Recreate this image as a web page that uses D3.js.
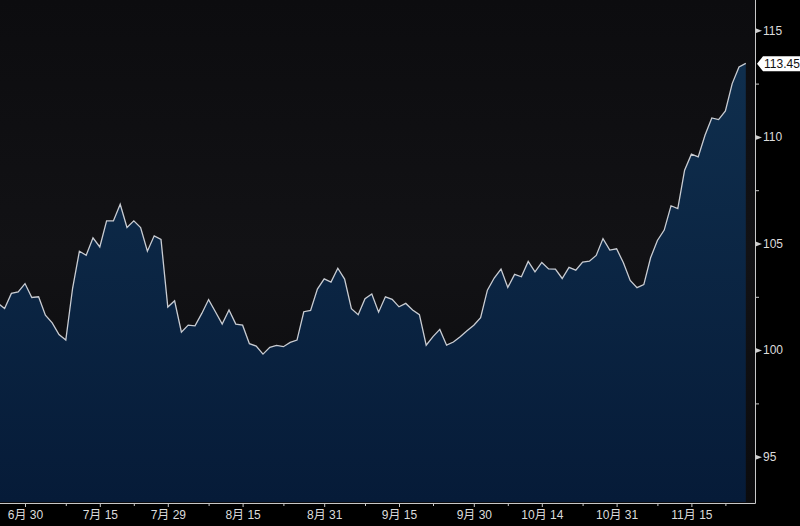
<!DOCTYPE html>
<html>
<head>
<meta charset="utf-8">
<script src="https://cdn.jsdelivr.net/npm/d3@7/dist/d3.min.js"></script>
<style>
  html, body { margin: 0; padding: 0; background: #000; }
  svg { display: block; }
</style>
</head>
<body>
<svg id="chart" width="800" height="526"></svg>
<script>
// Trading dates (2016), MM-DD
const dates = [
  "06-24","06-27","06-28","06-29","06-30",
  "07-01","07-04","07-05","07-06","07-07","07-08","07-11","07-12","07-13","07-14","07-15",
  "07-18","07-19","07-20","07-21","07-22","07-25","07-26","07-27","07-28","07-29",
  "08-01","08-02","08-03","08-04","08-05","08-08","08-09","08-10","08-11","08-12",
  "08-15","08-16","08-17","08-18","08-19","08-22","08-23","08-24","08-25","08-26",
  "08-29","08-30","08-31",
  "09-01","09-02","09-05","09-06","09-07","09-08","09-09","09-12","09-13","09-14","09-15","09-16",
  "09-19","09-20","09-21","09-22","09-23","09-26","09-27","09-28","09-29","09-30",
  "10-03","10-04","10-05","10-06","10-07","10-10","10-11","10-12","10-13","10-14",
  "10-17","10-18","10-19","10-20","10-21","10-24","10-25","10-26","10-27","10-28","10-31",
  "11-01","11-02","11-03","11-04","11-07","11-08","11-09","11-10","11-11",
  "11-14","11-15","11-16","11-17","11-18","11-21","11-22","11-23","11-24","11-25"
];

const values = [
  102.20,101.95,102.66,102.73,103.12,
  102.47,102.50,101.64,101.28,100.73,100.47,102.90,104.64,104.45,105.27,104.84,
  106.06,106.06,106.84,105.75,106.06,105.75,104.64,105.36,105.19,102.02,
  102.31,100.84,101.17,101.14,101.72,102.37,101.80,101.22,101.88,101.22,
  101.17,100.30,100.19,99.81,100.13,100.22,100.16,100.36,100.47,101.80,
  101.86,102.86,103.34,
  103.19,103.84,103.33,101.94,101.66,102.41,102.63,101.78,102.50,102.38,102.03,
  102.19,101.88,101.66,100.23,100.63,100.97,100.23,100.38,100.63,100.91,101.17,
  101.52,102.81,103.38,103.80,102.94,103.55,103.44,104.16,103.67,104.11,
  103.81,103.80,103.36,103.88,103.75,104.13,104.17,104.44,105.23,104.69,104.75,
  104.10,103.27,102.93,103.07,104.33,105.14,105.63,106.77,106.64,
  108.44,109.19,109.06,110.08,110.89,110.81,111.22,112.50,113.28,113.45
];

const xTickDates  = ["06-30","07-15","07-29","08-15","08-31","09-15","09-30","10-14","10-31","11-15"];
const xTickLabels = ["6月 30","7月 15","7月 29","8月 15","8月 31","9月 15","9月 30","10月 14","10月 31","11月 15"];
const xMinorDates = ["07-08","07-22","08-08","08-23","09-08","09-22","10-07","10-24","11-08","11-22"];
const yTicks      = [95, 100, 105, 110, 115];
const yMinorTicks = [97.5, 102.5, 107.5, 112.5];
const lastLabel   = "113.45";

const svg = d3.select("#chart");
const W = 800, H = 526;
const plotRight = 755, plotBottom = 503, fillBottom = 502;

const idx = d => dates.indexOf(d);

const x = d3.scaleLinear().domain([0, dates.length - 1]).range([-2.2, 745.8]);
const y = d3.scaleLinear().domain([95, 115]).range([456.7, 30.3]);

const defs = svg.append("defs");
const bg = defs.append("linearGradient").attr("id", "bg")
  .attr("x1", 0).attr("y1", 0).attr("x2", 0).attr("y2", 1);
bg.append("stop").attr("offset", "0%").attr("stop-color", "#0c0c0f");
bg.append("stop").attr("offset", "50%").attr("stop-color", "#121215");
bg.append("stop").attr("offset", "100%").attr("stop-color", "#0b0b0d");

const fg = defs.append("linearGradient").attr("id", "fillg")
  .attr("gradientUnits", "userSpaceOnUse")
  .attr("x1", 0).attr("y1", 30).attr("x2", 0).attr("y2", fillBottom);
fg.append("stop").attr("offset", "0%").attr("stop-color", "#10304f");
fg.append("stop").attr("offset", "100%").attr("stop-color", "#061b38");

const clip = defs.append("clipPath").attr("id", "plotclip");
clip.append("rect").attr("x", 0).attr("y", 0).attr("width", 747).attr("height", fillBottom);

// plot background
svg.append("rect").attr("x", 0).attr("y", 0).attr("width", plotRight).attr("height", plotBottom)
  .attr("fill", "url(#bg)");

const data = values.map((v, i) => ({ i, v }));

const g = svg.append("g").attr("clip-path", "url(#plotclip)");

g.append("path").datum(data)
  .attr("fill", "url(#fillg)")
  .attr("d", d3.area().x(d => x(d.i)).y0(fillBottom).y1(d => y(d.v)));

g.append("path").datum(data)
  .attr("fill", "none")
  .attr("stroke", "#c9ccd2")
  .attr("stroke-width", 1.3)
  .attr("stroke-linejoin", "miter")
  .attr("d", d3.line().x(d => x(d.i)).y(d => y(d.v)));

// axis frame lines
svg.append("line").attr("x1", 0).attr("x2", plotRight + 0.5).attr("y1", plotBottom + 0.5).attr("y2", plotBottom + 0.5)
  .attr("stroke", "#c8c8c8").attr("stroke-width", 1);
svg.append("line").attr("x1", plotRight + 0.5).attr("x2", plotRight + 0.5).attr("y1", 0).attr("y2", plotBottom + 0.5)
  .attr("stroke", "#c8c8c8").attr("stroke-width", 1);

const font = "'Liberation Sans', 'Noto Sans CJK SC', sans-serif";

// x axis major ticks + labels
const xAxis = d3.axisBottom(x)
  .tickValues(xTickDates.map(idx))
  .tickFormat((d, i) => xTickLabels[i])
  .tickSize(4).tickPadding(3);
const xg = svg.append("g").attr("transform", `translate(0,${plotBottom})`).call(xAxis);
xg.select(".domain").remove();
xg.selectAll(".tick line").attr("stroke", "#c8c8c8");
xg.selectAll(".tick text").attr("fill", "#dcdcdc").style("font-family", font).style("font-size", "12px");

// x minor ticks
const xMinor = d3.axisBottom(x).tickValues(xMinorDates.map(idx)).tickFormat("").tickSize(3);
const xmg = svg.append("g").attr("transform", `translate(0,${plotBottom})`).call(xMinor);
xmg.select(".domain").remove();
xmg.selectAll(".tick line").attr("stroke", "#c8c8c8");

// y axis labels (right)
const yAxis = d3.axisRight(y).tickValues(yTicks).tickSize(0).tickPadding(8).tickFormat(d3.format("d"));
const yg = svg.append("g").attr("transform", `translate(${plotRight},0)`).call(yAxis);
yg.select(".domain").remove();
yg.selectAll(".tick text").attr("fill", "#dcdcdc").style("font-family", font).style("font-size", "12px");
// arrow ticks
yg.selectAll(".tick").append("path")
  .attr("d", "M0.5,-2.5 L7,0 L0.5,2.5 Z")
  .attr("fill", "#d0d0d0");

// y minor ticks
const yMinor = d3.axisRight(y).tickValues(yMinorTicks).tickSize(4).tickFormat("");
const ymg = svg.append("g").attr("transform", `translate(${plotRight},0)`).call(yMinor);
ymg.select(".domain").remove();
ymg.selectAll(".tick line").attr("stroke", "#c8c8c8");

// last value label
const ly = y(values[values.length - 1]);
svg.append("path")
  .attr("d", `M757,${ly + 0.5} L763,${ly - 7} L800,${ly - 7} L800,${ly + 8} L763,${ly + 8} Z`)
  .attr("fill", "#ffffff");
svg.append("text")
  .attr("x", 764).attr("y", ly + 0.5).attr("dy", "0.35em")
  .attr("fill", "#111")
  .style("font-family", font).style("font-size", "12px")
  .text(lastLabel);
</script>
</body>
</html>
